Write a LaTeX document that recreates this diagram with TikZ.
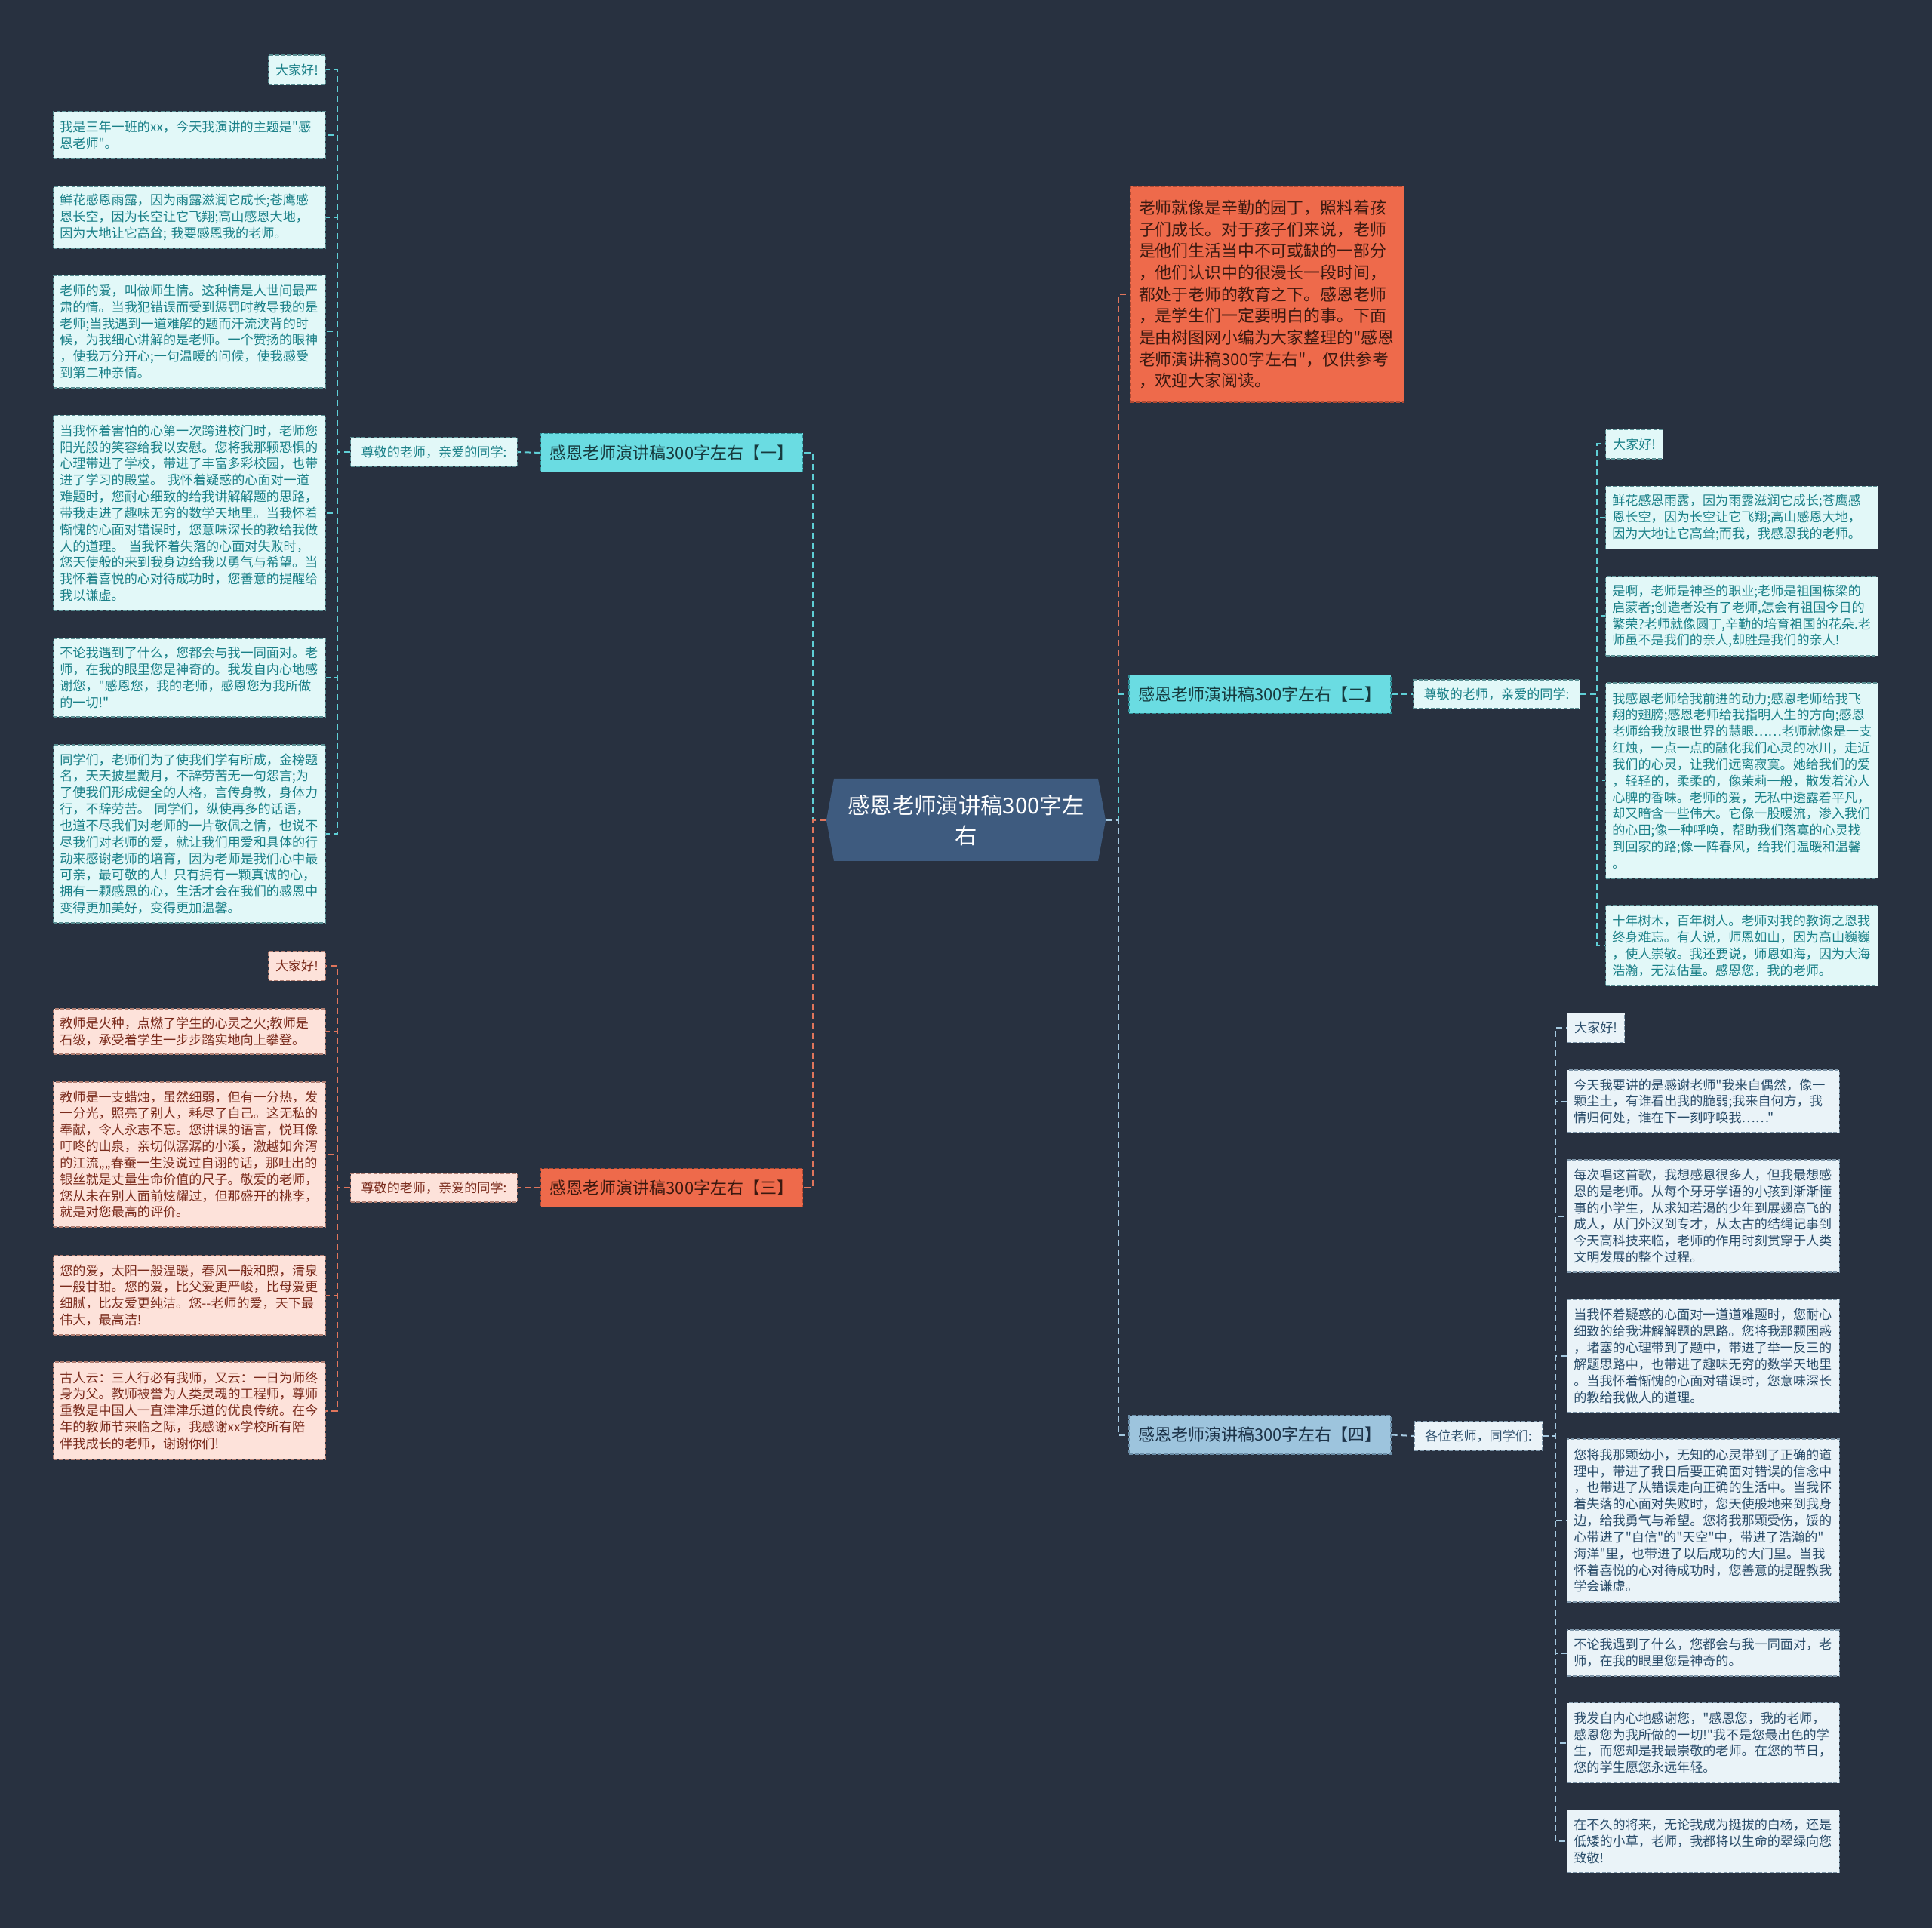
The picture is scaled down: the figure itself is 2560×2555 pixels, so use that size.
\documentclass[tikz,border=0pt]{standalone}
\usepackage{fontspec}
\newfontfamily\cjk{Noto Sans CJK SC}
\usetikzlibrary{calc, positioning}

\definecolor{bg}{HTML}{283140}
\definecolor{hexfill}{HTML}{3E5B7F}
\definecolor{tealfill}{HTML}{6ADCE2}
\definecolor{tealedge}{HTML}{2F8F96}
\definecolor{tealleaf}{HTML}{E2F8F8}
\definecolor{tealleafedge}{HTML}{5A8F93}
\definecolor{tealtext}{HTML}{1A8088}
\definecolor{tealdark}{HTML}{173A3E}
\definecolor{tealline}{HTML}{5FCFD6}
\definecolor{orangefill}{HTML}{EE6A4B}
\definecolor{orangeedge}{HTML}{B04A33}
\definecolor{orangeleaf}{HTML}{FDE2DA}
\definecolor{orangeleafedge}{HTML}{B07E72}
\definecolor{orangetext}{HTML}{7A2B1C}
\definecolor{orangedark}{HTML}{3C1910}
\definecolor{orangeline}{HTML}{E0755C}
\definecolor{bluefill}{HTML}{9DC4DD}
\definecolor{blueedge}{HTML}{6B8EA8}
\definecolor{blueleaf}{HTML}{EAF3F8}
\definecolor{blueleafedge}{HTML}{7F97AA}
\definecolor{bluetext}{HTML}{2A4D6A}
\definecolor{bluedark}{HTML}{1D3348}
\definecolor{blueline}{HTML}{A5C9E0}

\newcommand{\leaffont}{\cjk\fontsize{5.13pt}{6.55pt}\selectfont}
\newcommand{\branchfont}{\cjk\fontsize{6.6pt}{8pt}\selectfont}

\tikzset{
  boxline/.style={draw, line width=0.4pt, dash pattern=on 1.5pt off 0.8pt},
  leaf/.style={boxline, text width=103pt, align=left, inner xsep=2.6pt, inner ysep=2pt, font=\leaffont},
  hello/.style={boxline, inner xsep=2.85pt, inner ysep=0pt, minimum height=39*0.3pt, font=\leaffont},
  mid/.style={boxline, inner xsep=4.2pt, inner ysep=0pt, minimum height=38*0.3pt, font=\leaffont},
  branch/.style={boxline, minimum width=347*0.3pt, minimum height=51*0.3pt, inner xsep=0pt, font=\branchfont},
  leafT/.style={leaf, fill=tealleaf, draw=tealleafedge, text=tealtext},
  leafO/.style={leaf, fill=orangeleaf, draw=orangeleafedge, text=orangetext},
  leafB/.style={leaf, fill=blueleaf, draw=blueleafedge, text=bluetext},
  conT/.style={draw=tealline, line width=0.6pt, dash pattern=on 2.4pt off 1.5pt},
  conO/.style={draw=orangeline, line width=0.6pt, dash pattern=on 2.4pt off 1.5pt},
  conB/.style={draw=blueline, line width=0.6pt, dash pattern=on 2.4pt off 1.5pt},
}

\begin{document}
\begin{tikzpicture}[x=0.3pt, y=-0.3pt]
\fill[bg] (0,0) rectangle (2560,2555);

% Centre
\fill[hexfill] (1105,1032) -- (1455,1032) -- (1465,1087) -- (1455,1141) -- (1105,1141) -- (1095,1087) -- cycle;
\node[text=white, minimum width=350*0.3pt, minimum height=109*0.3pt, inner sep=0pt, align=center, font=\cjk\fontsize{8.8pt}{12pt}\selectfont] (main) at (1280,1087) {感恩老师演讲稿300字左\\右};
\coordinate (mainL) at ([xshift=-3pt]main.west);
\coordinate (mainR) at ([xshift=3pt]main.east);

% Branch one
\node[branch, fill=tealfill, draw=tealedge, text=tealdark] (bA) at (890,600) {感恩老师演讲稿300字左右【一】};
\node[mid, fill=tealleaf, draw=tealleafedge, text=tealtext] (mA) at (575,599) {尊敬的老师，亲爱的同学:};
\node[hello, fill=tealleaf, draw=tealleafedge, text=tealtext, anchor=east] (la1) at (432,92.5) {大家好!};
\node[leafT, anchor=east, minimum height=62*0.3pt] (la2) at (432,179) {我是三年一班的xx，今天我演讲的主题是"感\\恩老师"。};
\node[leafT, anchor=east, minimum height=82*0.3pt] (la3) at (432,288) {鲜花感恩雨露，因为雨露滋润它成长;苍鹰感\\恩长空，因为长空让它飞翔;高山感恩大地，\\因为大地让它高耸; 我要感恩我的老师。};
\node[leafT, anchor=east, minimum height=149*0.3pt] (la4) at (432,439.5) {老师的爱，叫做师生情。这种情是人世间最严\\肃的情。当我犯错误而受到惩罚时教导我的是\\老师;当我遇到一道难解的题而汗流浃背的时\\候，为我细心讲解的是老师。一个赞扬的眼神\\，使我万分开心;一句温暖的问候，使我感受\\到第二种亲情。};
\node[leafT, anchor=east, minimum height=259*0.3pt] (la5) at (432,680) {当我怀着害怕的心第一次跨进校门时，老师您\\阳光般的笑容给我以安慰。您将我那颗恐惧的\\心理带进了学校，带进了丰富多彩校园，也带\\进了学习的殿堂。 我怀着疑惑的心面对一道\\难题时，您耐心细致的给我讲解解题的思路，\\带我走进了趣味无穷的数学天地里。当我怀着\\惭愧的心面对错误时，您意味深长的教给我做\\人的道理。 当我怀着失落的心面对失败时，\\您天使般的来到我身边给我以勇气与希望。当\\我怀着喜悦的心对待成功时，您善意的提醒给\\我以谦虚。};
\node[leafT, anchor=east, minimum height=104*0.3pt] (la6) at (432,898) {不论我遇到了什么，您都会与我一同面对。老\\师，在我的眼里您是神奇的。我发自内心地感\\谢您，"感恩您，我的老师，感恩您为我所做\\的一切!"};
\node[leafT, anchor=east, minimum height=236*0.3pt] (la7) at (432,1105) {同学们，老师们为了使我们学有所成，金榜题\\名，天天披星戴月，不辞劳苦无一句怨言;为\\了使我们形成健全的人格，言传身教，身体力\\行，不辞劳苦。 同学们，纵使再多的话语，\\也道不尽我们对老师的一片敬佩之情，也说不\\尽我们对老师的爱，就让我们用爱和具体的行\\动来感谢老师的培育，因为老师是我们心中最\\可亲，最可敬的人! 只有拥有一颗真诚的心，\\拥有一颗感恩的心，生活才会在我们的感恩中\\变得更加美好，变得更加温馨。};
\draw[conT] (mainL) -- ++(-17,0) |- (bA.east);
\draw[conT] (bA.west) -- (mA.east);
\draw[conT] (mA.west) -- ++(-17,0) |- (la1.east);
\draw[conT] (mA.west) -- ++(-17,0) |- (la2.east);
\draw[conT] (mA.west) -- ++(-17,0) |- (la3.east);
\draw[conT] (mA.west) -- ++(-17,0) |- (la4.east);
\draw[conT] (mA.west) -- ++(-17,0) |- (la5.east);
\draw[conT] (mA.west) -- ++(-17,0) |- (la6.east);
\draw[conT] (mA.west) -- ++(-17,0) |- (la7.east);

% Branch three
\node[branch, fill=orangefill, draw=orangeedge, text=orangedark] (bC) at (890,1574) {感恩老师演讲稿300字左右【三】};
\node[mid, fill=orangeleaf, draw=orangeleafedge, text=orangetext] (mC) at (575,1574) {尊敬的老师，亲爱的同学:};
\node[hello, fill=orangeleaf, draw=orangeleafedge, text=orangetext, anchor=east] (lc1) at (432,1280) {大家好!};
\node[leafO, anchor=east, minimum height=60*0.3pt] (lc2) at (432,1367) {教师是火种，点燃了学生的心灵之火;教师是\\石级，承受着学生一步步踏实地向上攀登。};
\node[leafO, anchor=east, minimum height=192*0.3pt] (lc3) at (432,1530) {教师是一支蜡烛，虽然细弱，但有一分热，发\\一分光，照亮了别人，耗尽了自己。这无私的\\奉献，令人永志不忘。您讲课的语言，悦耳像\\叮咚的山泉，亲切似潺潺的小溪，激越如奔泻\\的江流„„春蚕一生没说过自诩的话，那吐出的\\银丝就是丈量生命价值的尺子。敬爱的老师，\\您从未在别人面前炫耀过，但那盛开的桃李，\\就是对您最高的评价。};
\node[leafO, anchor=east, minimum height=105*0.3pt] (lc4) at (432,1716.5) {您的爱，太阳一般温暖，春风一般和煦，清泉\\一般甘甜。您的爱，比父爱更严峻，比母爱更\\细腻，比友爱更纯洁。您--老师的爱，天下最\\伟大，最高洁!};
\node[leafO, anchor=east, minimum height=129*0.3pt] (lc5) at (432,1869.5) {古人云：三人行必有我师，又云：一日为师终\\身为父。教师被誉为人类灵魂的工程师，尊师\\重教是中国人一直津津乐道的优良传统。在今\\年的教师节来临之际，我感谢xx学校所有陪\\伴我成长的老师，谢谢你们!};
\draw[conO] (mainL) -- ++(-17,0) |- (bC.east);
\draw[conO] (bC.west) -- (mC.east);
\draw[conO] (mC.west) -- ++(-17,0) |- (lc1.east);
\draw[conO] (mC.west) -- ++(-17,0) |- (lc2.east);
\draw[conO] (mC.west) -- ++(-17,0) |- (lc3.east);
\draw[conO] (mC.west) -- ++(-17,0) |- (lc4.east);
\draw[conO] (mC.west) -- ++(-17,0) |- (lc5.east);

% Introduction
\node[boxline, fill=orangefill, draw=orangeedge, text=orangedark, text width=102pt, align=left, inner xsep=3.5pt, inner ysep=2pt, minimum height=286*0.3pt, font=\cjk\fontsize{6.56pt}{8.6pt}\selectfont] (intro) at (1679,390) {老师就像是辛勤的园丁，照料着孩\\子们成长。对于孩子们来说，老师\\是他们生活当中不可或缺的一部分\\，他们认识中的很漫长一段时间，\\都处于老师的教育之下。感恩老师\\，是学生们一定要明白的事。下面\\是由树图网小编为大家整理的"感恩\\老师演讲稿300字左右"，仅供参考\\，欢迎大家阅读。};
\draw[conO] (mainR) -- ++(16,0) |- (intro.west);

% Branch two
\node[branch, fill=tealfill, draw=tealedge, text=tealdark] (bB) at (1669.5,920) {感恩老师演讲稿300字左右【二】};
\node[mid, fill=tealleaf, draw=tealleafedge, text=tealtext] (mB) at (1983,920) {尊敬的老师，亲爱的同学:};
\node[hello, fill=tealleaf, draw=tealleafedge, text=tealtext, anchor=west] (rb1) at (2127,588.5) {大家好!};
\node[leafT, anchor=west, minimum height=83*0.3pt] (rb2) at (2127,686) {鲜花感恩雨露，因为雨露滋润它成长;苍鹰感\\恩长空，因为长空让它飞翔;高山感恩大地，\\因为大地让它高耸;而我，我感恩我的老师。};
\node[leafT, anchor=west, minimum height=105*0.3pt] (rb3) at (2127,816.5) {是啊，老师是神圣的职业;老师是祖国栋梁的\\启蒙者;创造者没有了老师,怎会有祖国今日的\\繁荣?老师就像圆丁,辛勤的培育祖国的花朵.老\\师虽不是我们的亲人,却胜是我们的亲人!};
\node[leafT, anchor=west, minimum height=259*0.3pt] (rb4) at (2127,1034.5) {我感恩老师给我前进的动力;感恩老师给我飞\\翔的翅膀;感恩老师给我指明人生的方向;感恩\\老师给我放眼世界的慧眼……老师就像是一支\\红烛，一点一点的融化我们心灵的冰川，走近\\我们的心灵，让我们远离寂寞。她给我们的爱\\，轻轻的，柔柔的，像茉莉一般，散发着沁人\\心脾的香味。老师的爱，无私中透露着平凡，\\却又暗含一些伟大。它像一股暖流，渗入我们\\的心田;像一种呼唤，帮助我们落寞的心灵找\\到回家的路;像一阵春风，给我们温暖和温馨\\。};
\node[leafT, anchor=west, minimum height=106*0.3pt] (rb5) at (2127,1253) {十年树木，百年树人。老师对我的教诲之恩我\\终身难忘。有人说，师恩如山，因为高山巍巍\\，使人崇敬。我还要说，师恩如海，因为大海\\浩瀚，无法估量。感恩您，我的老师。};
\draw[conT] (mainR) -- ++(16,0) |- (bB.west);
\draw[conT] (bB.east) -- (mB.west);
\draw[conT] (mB.east) -- ++(22,0) |- (rb1.west);
\draw[conT] (mB.east) -- ++(22,0) |- (rb2.west);
\draw[conT] (mB.east) -- ++(22,0) |- (rb3.west);
\draw[conT] (mB.east) -- ++(22,0) |- (rb4.west);
\draw[conT] (mB.east) -- ++(22,0) |- (rb5.west);

% Branch four
\node[branch, fill=bluefill, draw=blueedge, text=bluedark] (bD) at (1669.5,1901.5) {感恩老师演讲稿300字左右【四】};
\node[mid, fill=blueleaf, draw=blueleafedge, text=bluetext] (mD) at (1959,1903) {各位老师，同学们:};
\node[hello, fill=blueleaf, draw=blueleafedge, text=bluetext, anchor=west] (rd1) at (2076,1362) {大家好!};
\node[leafB, anchor=west, minimum height=83*0.3pt] (rd2) at (2076,1459.5) {今天我要讲的是感谢老师"我来自偶然，像一\\颗尘土，有谁看出我的脆弱;我来自何方，我\\情归何处，谁在下一刻呼唤我……"};
\node[leafB, anchor=west, minimum height=149*0.3pt] (rd3) at (2076,1611.5) {每次唱这首歌，我想感恩很多人，但我最想感\\恩的是老师。从每个牙牙学语的小孩到渐渐懂\\事的小学生，从求知若渴的少年到展翅高飞的\\成人，从门外汉到专才，从太古的结绳记事到\\今天高科技来临，老师的作用时刻贯穿于人类\\文明发展的整个过程。};
\node[leafB, anchor=west, minimum height=150*0.3pt] (rd4) at (2076,1797) {当我怀着疑惑的心面对一道道难题时，您耐心\\细致的给我讲解解题的思路。您将我那颗困惑\\，堵塞的心理带到了题中，带进了举一反三的\\解题思路中，也带进了趣味无穷的数学天地里\\。当我怀着惭愧的心面对错误时，您意味深长\\的教给我做人的道理。};
\node[leafB, anchor=west, minimum height=216*0.3pt] (rd5) at (2076,2015) {您将我那颗幼小，无知的心灵带到了正确的道\\理中，带进了我日后要正确面对错误的信念中\\，也带进了从错误走向正确的生活中。当我怀\\着失落的心面对失败时，您天使般地来到我身\\边，给我勇气与希望。您将我那颗受伤，馁的\\心带进了"自信"的"天空"中，带进了浩瀚的"\\海洋"里，也带进了以后成功的大门里。当我\\怀着喜悦的心对待成功时，您善意的提醒教我\\学会谦虚。};
\node[leafB, anchor=west, minimum height=61*0.3pt] (rd6) at (2076,2190.5) {不论我遇到了什么，您都会与我一同面对，老\\师，在我的眼里您是神奇的。};
\node[leafB, anchor=west, minimum height=106*0.3pt] (rd7) at (2076,2309.5) {我发自内心地感谢您，"感恩您，我的老师，\\感恩您为我所做的一切!"我不是您最出色的学\\生，而您却是我最崇敬的老师。在您的节日，\\您的学生愿您永远年轻。};
\node[leafB, anchor=west, minimum height=83*0.3pt] (rd8) at (2076,2440) {在不久的将来，无论我成为挺拔的白杨，还是\\低矮的小草，老师，我都将以生命的翠绿向您\\致敬!};
\draw[conB] (mainR) -- ++(16,0) |- (bD.west);
\draw[conB] (bD.east) -- (mD.west);
\draw[conB] (mD.east) -- ++(17,0) |- (rd1.west);
\draw[conB] (mD.east) -- ++(17,0) |- (rd2.west);
\draw[conB] (mD.east) -- ++(17,0) |- (rd3.west);
\draw[conB] (mD.east) -- ++(17,0) |- (rd4.west);
\draw[conB] (mD.east) -- ++(17,0) |- (rd5.west);
\draw[conB] (mD.east) -- ++(17,0) |- (rd6.west);
\draw[conB] (mD.east) -- ++(17,0) |- (rd7.west);
\draw[conB] (mD.east) -- ++(17,0) |- (rd8.west);
\end{tikzpicture}
\end{document}
